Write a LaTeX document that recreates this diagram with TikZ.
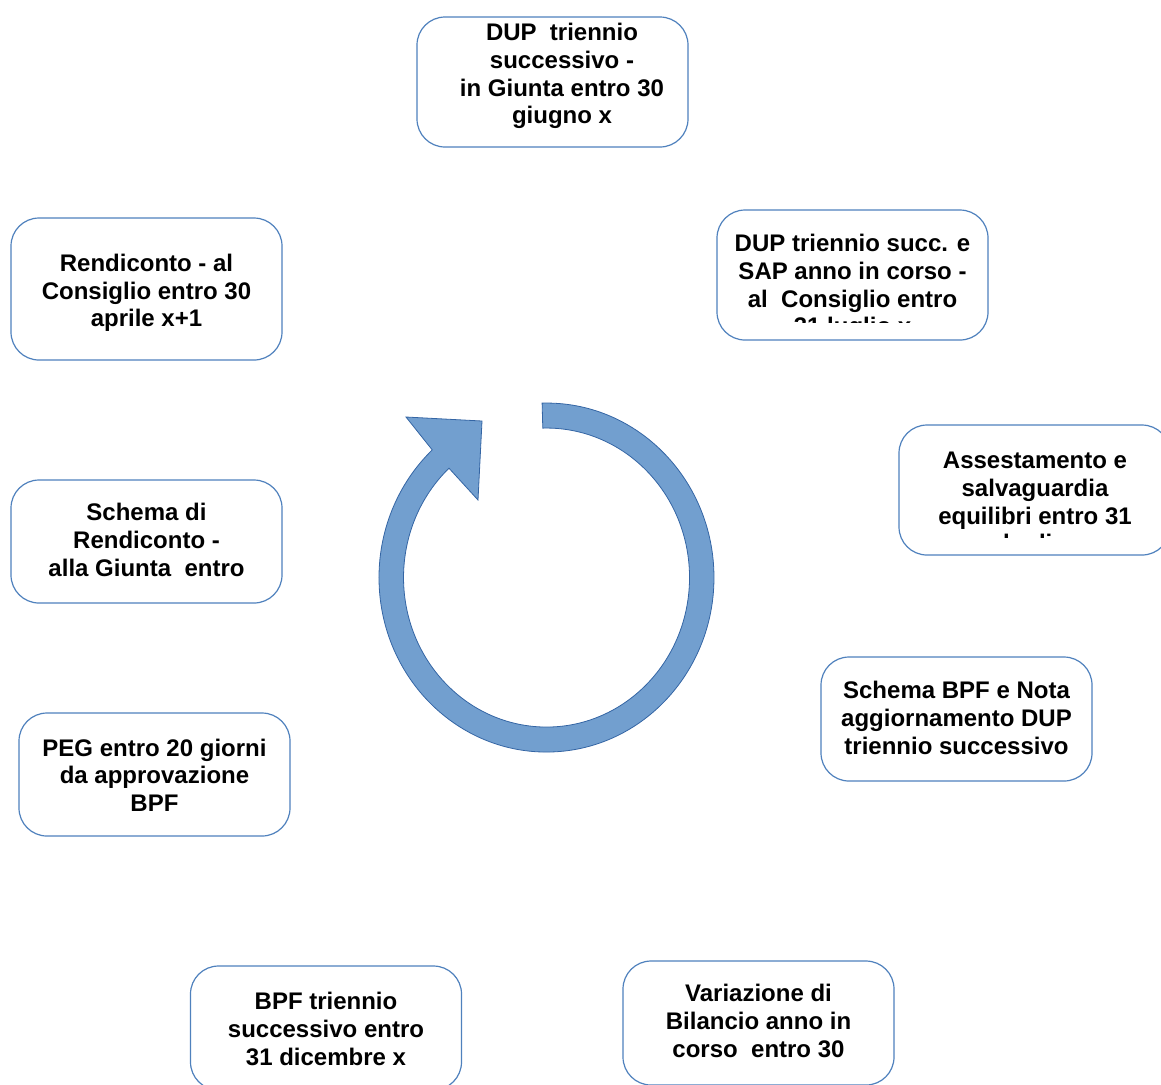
\documentclass[tikz,border=0pt]{standalone}
\usepackage{fontspec}
\setmainfont{Liberation Sans}
\definecolor{bordo}{RGB}{79,129,189}
\definecolor{freccia}{RGB}{114,159,207}
\definecolor{frecciabordo}{RGB}{52,101,164}

\begin{document}
\begin{tikzpicture}[x=0.5pt,y=0.5pt,
    casella/.style={draw=bordo, line width=0.6pt, fill=white, rounded corners=14pt,
        minimum width=135.5pt, minimum height=#1, inner sep=0pt},
    testo/.style={font=\bfseries\fontsize{12}{13.85}\selectfont, align=center, inner sep=0pt}]

    % Area del disegno
    \useasboundingbox (0,0) rectangle (1161,-1084);
    \clip (0,0) rectangle (1161,-1084);

    % Freccia circolare centrale
    \filldraw[fill=freccia, draw=frecciabordo, line width=0.4pt]
        (542.1,-403.1) arc[start angle=91.5, end angle=-227, x radius=167.5, y radius=174.5]
        -- (406,-417) -- (482,-421) -- (478,-500) -- (449,-468.2)
        arc[start angle=-227, end angle=91.5, x radius=143, y radius=149.5] -- cycle;

    % Caselle
    \node[casella=65pt] (dupGiunta) at (552.5,-82) {};
    \node[casella=65pt] (dupConsiglio) at (852.5,-275) {};
    \node[casella=65pt] (assestamento) at (1034.5,-490) {};
    \node[casella=62pt] (schemaBPF) at (956.5,-719) {};
    \node[casella=62pt] (variazione) at (758.5,-1023) {};
    \node[casella=62pt] (bpf) at (326,-1028) {};
    \node[casella=61.5pt] (peg) at (154.5,-774.5) {};
    \node[casella=61.5pt] (schemaRend) at (146.5,-541.5) {};
    \node[casella=71pt] (rendiconto) at (146.5,-289) {};

    % Testi (tagliati al bordo inferiore della casella)
    \begin{scope}
        \clip (dupGiunta.north west) rectangle ([yshift=9pt]dupGiunta.south east);
        \node[testo] (tDupGiunta) at (562,-76) {DUP~ triennio\\successivo -\\ in Giunta entro 30\\giugno x};
    \end{scope}
    \begin{scope}
        \clip (dupConsiglio.north west) rectangle ([yshift=9pt]dupConsiglio.south east);
        \node[testo] (tDupConsiglio) at (852.5,-287) {DUP triennio succ. e\\SAP anno in corso -\\al~ Consiglio entro\\31 luglio x};
    \end{scope}
    \begin{scope}
        \clip (assestamento.north west) rectangle ([yshift=9pt]assestamento.south east);
        \node[testo] (tAssestamento) at (1035,-504.5) {Assestamento e\\salvaguardia\\equilibri entro 31\\luglio};
    \end{scope}
    \node[testo] (tSchemaBPF) at (956.5,-718) {Schema BPF e Nota\\aggiornamento DUP\\triennio successivo};
    \node[testo] (tVariazione) at (758.5,-1021) {Variazione di\\Bilancio anno in\\corso~ entro 30};
    \node[testo] (tBpf) at (326,-1029) {BPF triennio\\successivo entro\\31 dicembre x};
    \node[testo] (tPeg) at (154.5,-775) {PEG entro 20 giorni\\da approvazione\\BPF};
    \node[testo] (tSchemaRend) at (146.5,-540) {Schema di\\Rendiconto -\\alla Giunta~ entro};
    \node[testo] (tRendiconto) at (146.5,-293) {Rendiconto - al\\Consiglio entro 30\\aprile x+1};

\end{tikzpicture}
\end{document}
